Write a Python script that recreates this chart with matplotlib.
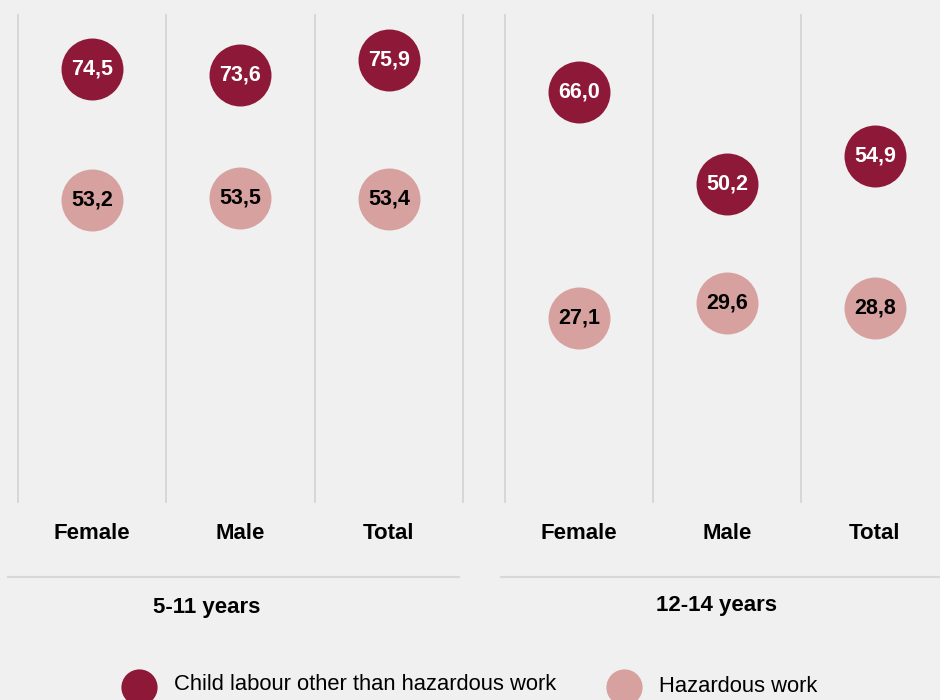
import matplotlib
matplotlib.use("Agg")
import matplotlib.pyplot as plt

plt.rcParams['font.family'] = ['Liberation Sans', 'DejaVu Sans']

categories = ['Female', 'Male', 'Total']
age_groups = ['5-11 years', '12-14 years']
other_5_11 = [74.5, 73.6, 75.9]
hazard_5_11 = [53.2, 53.5, 53.4]
other_12_14 = [66.0, 50.2, 54.9]
hazard_12_14 = [27.1, 29.6, 28.8]

dark = '#8e1838'
light = '#d6a19e'
bg = '#f0f0f0'
grid_col = '#d2d2d2'


def fmt(v):
    return f"{v:.1f}".replace('.', ',')


fig = plt.figure(figsize=(9.4, 7), dpi=100, facecolor=bg)

ax1 = fig.add_axes([0.0191, 0.2829, 0.4734, 0.6957])
ax2 = fig.add_axes([0.5372, 0.2829, 0.4628, 0.6957])

panels = [
    (ax1, other_5_11, hazard_5_11, (4.1, 83.3), 2.5),
    (ax2, other_12_14, hazard_12_14, (-4.7, 79.3), 2.44),
]

for ax, other, hazard, ylim, xmax in panels:
    ax.set_facecolor(bg)
    ax.set_xlim(-0.5, xmax)
    ax.set_ylim(*ylim)
    for s in ax.spines.values():
        s.set_visible(False)
    ax.set_yticks([])
    x = list(range(len(categories)))
    for gx in [-0.5, 0.5, 1.5, 2.5]:
        if gx <= xmax:
            ax.axvline(gx, color=grid_col, lw=1.2, clip_on=False, zorder=1)
    ax.scatter(x, other, s=1990, color=dark, zorder=3, linewidths=0)
    ax.scatter(x, hazard, s=1990, color=light, zorder=3, linewidths=0)
    for xi, v in zip(x, other):
        ax.text(xi, v, fmt(v), ha='center', va='center', color='white',
                fontsize=15.5, fontweight='bold', zorder=4)
    for xi, v in zip(x, hazard):
        ax.text(xi, v, fmt(v), ha='center', va='center', color='black',
                fontsize=15.5, fontweight='bold', zorder=4)
    ax.set_xticks(x)
    ax.set_xticklabels(categories, fontsize=16, fontweight='bold')
    ax.tick_params(axis='x', length=0, pad=15)

# overlay for separators, group names and legend
ov = fig.add_axes([0, 0, 1, 1], facecolor='none')
ov.set_xlim(0, 940)
ov.set_ylim(700, 0)
ov.axis('off')
ov.plot([8, 459], [577, 577], color='#d8d8d8', lw=1.5)
ov.plot([501, 940], [577, 577], color='#d8d8d8', lw=1.5)
ov.text(207, 608, age_groups[0], ha='center', va='center', fontsize=16, fontweight='bold')
ov.text(716, 605, age_groups[1], ha='center', va='center', fontsize=16, fontweight='bold')

ov.scatter([139], [687], s=680, color=dark, linewidths=0)
ov.text(174, 685, 'Child labour other than hazardous work', ha='left', va='center', fontsize=15.8)
ov.scatter([624], [687], s=680, color=light, linewidths=0)
ov.text(659, 687, 'Hazardous work', ha='left', va='center', fontsize=15.8)

fig.savefig('out.png', dpi=100, facecolor=bg)
